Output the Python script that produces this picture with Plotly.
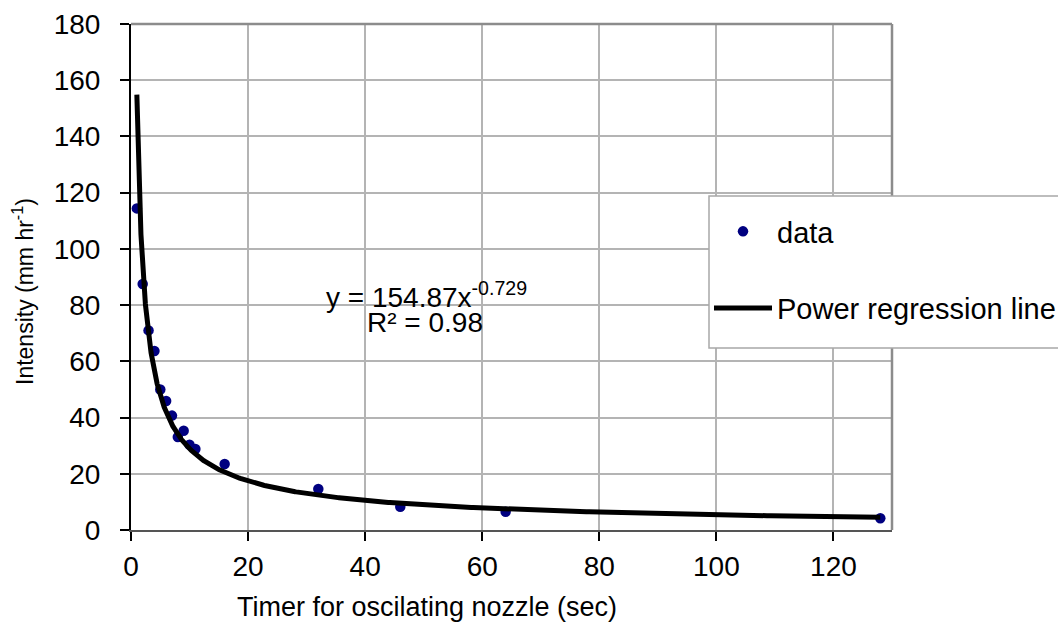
import numpy as np
import plotly.graph_objects as go

# Measured intensity for each oscillating-nozzle timer setting
timer_sec = [1, 2, 3, 4, 5, 6, 7, 8, 9, 10, 11, 16, 32, 46, 64, 128]
intensity = [114.4, 87.5, 71.0, 63.7, 50.0, 45.9, 40.7, 33.1, 35.3, 30.3,
             28.8, 23.5, 14.6, 8.3, 6.5, 4.2]

# Power regression y = a * x^b
coef_a = 154.87
coef_b = -0.729
r_squared = 0.98

x_ticks = [0, 20, 40, 60, 80, 100, 120]
y_ticks = [0, 20, 40, 60, 80, 100, 120, 140, 160, 180]

FONT = "Liberation Sans, Arial, sans-serif"

# plot-area geometry in pixels
W, H = 1058, 622
L, R, T, B = 131, 166, 24, 92
PW, PH = W - L - R, H - T - B


def px_x(px):
    return (px - L) / PW


def px_y(py):
    return (H - B - py) / PH


x_fit = np.geomspace(min(timer_sec), max(timer_sec), 800)
y_fit = coef_a * x_fit ** coef_b

fig = go.Figure()
fig.add_trace(go.Scatter(
    x=timer_sec, y=intensity, mode="markers", name="data",
    marker=dict(color="#000080", size=10.5),
    legendgroup="a",
))
fig.add_trace(go.Scatter(
    x=x_fit, y=y_fit, mode="lines", name="Power regression line",
    line=dict(color="black", width=5),
    legendgroup="b",
))

fig.update_layout(
    width=W, height=H,
    margin=dict(l=L, r=R, t=T, b=B, autoexpand=False),
    paper_bgcolor="white", plot_bgcolor="white",
    font=dict(family=FONT, color="black"),
    showlegend=True,
    legend=dict(
        x=px_x(709), xanchor="left", y=px_y(206), yanchor="top",
        bgcolor="rgba(0,0,0,0)", borderwidth=0,
        font=dict(size=29, family=FONT),
        traceorder="grouped", tracegroupgap=36,
        itemwidth=58,
    ),
    xaxis=dict(
        range=[0, 130], tickvals=x_ticks, ticks="outside", ticklen=9,
        tickcolor="black", tickwidth=1.5,
        tickfont=dict(size=28), ticklabelstandoff=1,
        showgrid=True, gridcolor="#b4b4b4", gridwidth=1.5,
        showline=True, linecolor="#555555", linewidth=2,
        zeroline=False, automargin=False,
    ),
    yaxis=dict(
        range=[0, 180], tickvals=y_ticks, ticks="outside", ticklen=9,
        tickcolor="black", tickwidth=1.5,
        tickfont=dict(size=28), ticklabelstandoff=14,
        showgrid=True, gridcolor="#b4b4b4", gridwidth=1.5,
        showline=True, linecolor="black", linewidth=2,
        zeroline=False, automargin=False,
    ),
    shapes=[
        # top and right frame of the plot area
        dict(type="line", xref="paper", yref="paper", x0=0, x1=1, y0=1, y1=1,
             line=dict(color="#8c8c8c", width=2.5), layer="above"),
        dict(type="line", xref="paper", yref="paper", x0=1, x1=1, y0=0, y1=1,
             line=dict(color="#8c8c8c", width=2.5), layer="above"),
        # legend box
        dict(type="rect", xref="paper", yref="paper",
             x0=px_x(709), x1=1.3, y0=px_y(348), y1=px_y(196),
             fillcolor="white", line=dict(color="#a8a8a8", width=1.5),
             layer="above"),
    ],
    annotations=[
        # axis titles
        dict(xref="paper", yref="paper", x=px_x(427), y=px_y(607),
             text="Timer for oscilating nozzle (sec)", showarrow=False,
             font=dict(size=27), xanchor="center", yanchor="middle"),
        dict(xref="paper", yref="paper", x=px_x(23), y=px_y(292),
             text="Intensity (mm hr<sup>-1</sup>)", showarrow=False,
             textangle=-90, font=dict(size=23),
             xanchor="center", yanchor="middle"),
        # regression equation
        dict(xref="paper", yref="paper", x=px_x(426.5), y=px_y(295),
             text=f"y = {coef_a:.2f}x<sup>{coef_b:.3f}</sup>", showarrow=False,
             font=dict(size=28), xanchor="center", yanchor="middle"),
        dict(xref="paper", yref="paper", x=px_x(424.5), y=px_y(323),
             text=f"R² = {r_squared:.2f}", showarrow=False,
             font=dict(size=28), xanchor="center", yanchor="middle"),
    ],
)

fig.write_html("out.html")
